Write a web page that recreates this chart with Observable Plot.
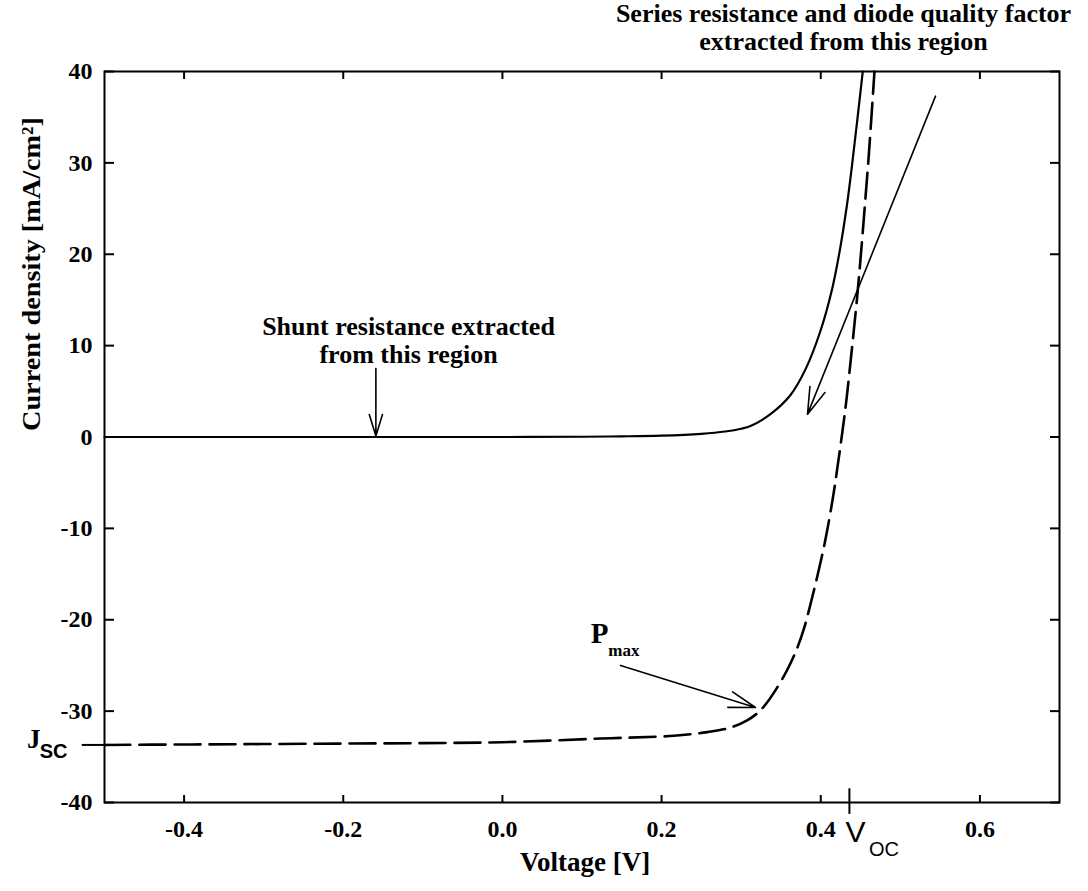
<!DOCTYPE html>
<html><head><meta charset="utf-8">
<script src="https://cdn.jsdelivr.net/npm/d3@7"></script>
<script src="https://cdn.jsdelivr.net/npm/@observablehq/plot@0.6"></script>
<style>body{margin:0;background:#fff;} #chart svg{display:block;}</style>
</head><body><div id="chart"></div>
<script>
// Dark J-V curve (solid)
const darkVoltage = [-0.5,-0.4,-0.3,-0.2,-0.1,0,0.1,0.15,0.2,0.25,0.28,0.3,0.3117,0.3368,0.362,0.3808,0.3996,0.4143,0.4239,0.4331,0.4394,0.4458,0.4528];
const darkCurrent = [0,0,0,0,0,0,0.03,0.07,0.15,0.35,0.6,0.9,1.2,2.5,4.6,7.4,11.6,16.2,20.4,25.5,29.8,34.6,40];
// Illuminated J-V curve (dashed)
const lightVoltage = [-0.5,-0.4,-0.3,-0.2,-0.1,0,0.1233,0.2154,0.2573,0.2866,0.3075,0.3201,0.3285,0.341,0.3578,0.3704,0.3788,0.3871,0.395,0.405,0.415,0.4215,0.4311,0.4374,0.4458,0.452,0.4562,0.4604,0.4675];
const lightCurrent = [-33.7,-33.65,-33.6,-33.55,-33.5,-33.4,-33.0,-32.7,-32.3,-31.8,-31.0,-30.25,-29.5,-28.0,-25.5,-23.1,-21.0,-18.3,-15.5,-11.6,-6.8,-3.0,3.2,8.2,15.4,21.6,26.2,30.9,40];
const xTicks = [-0.4,-0.2,0,0.2,0.4,0.6];
const yTicks = [-40,-30,-20,-10,0,10,20,30,40];
const vOC = 0.436;
const jSC = -33.7;
// annotation arrows (start -> end, data units)
const arrows = [
  {x1: -0.159, y1: 7.5, x2: -0.159, y2: 0.1},
  {x1: 0.5442, y1: 37.3, x2: 0.3834, y2: 2.5},
  {x1: 0.1484, y1: -25.0, x2: 0.318, y2: -29.6}
];
const notes = [
  {text: "Series resistance and diode quality factor\nextracted from this region", x: 0.4286, y: 44.85},
  {text: "Shunt resistance extracted\nfrom this region", x: -0.118, y: 10.66}
];

const dark = darkVoltage.map((v, i) => ({v, j: darkCurrent[i]}));
const light = lightVoltage.map((v, i) => ({v, j: lightCurrent[i]}));
const serif = "'Liberation Serif', 'Times New Roman', serif";
const sans = "'Liberation Sans', Arial, sans-serif";

const chart = Plot.plot({
  width: 1088,
  height: 891,
  marginLeft: 104,
  marginRight: 29,
  marginTop: 71,
  marginBottom: 89,
  style: {fontFamily: serif, background: "#fff", color: "#000", overflow: "visible"},
  x: {domain: [-0.5, 0.7]},
  y: {domain: [-40, 40]},
  marks: [
    Plot.frame({stroke: "#000", strokeWidth: 2}),
    Plot.axisX(xTicks, {anchor: "bottom", tickSize: -7, tickPadding: 24, strokeWidth: 2, tickFormat: d => d.toFixed(1), fontSize: 24, fontWeight: "bold", label: null}),
    Plot.axisX(xTicks, {anchor: "top", tickSize: -7, strokeWidth: 2, tickFormat: () => "", label: null}),
    Plot.axisY(yTicks, {anchor: "left", tickSize: -10, tickPadding: 22, strokeWidth: 2, tickFormat: d => String(d), fontSize: 24, fontWeight: "bold", label: null}),
    Plot.axisY(yTicks, {anchor: "right", tickSize: -10, strokeWidth: 2, tickFormat: () => "", label: null}),
    Plot.line(dark, {x: "v", y: "j", stroke: "#000", strokeWidth: 2.2, curve: "catmull-rom"}),
    Plot.line(light, {x: "v", y: "j", stroke: "#000", strokeWidth: 2.6, strokeDasharray: "26,9", curve: "catmull-rom"}),
    Plot.ruleX([vOC], {y1: -38.5, y2: -41.3, stroke: "#000", strokeWidth: 2}),
    Plot.ruleY([jSC], {x1: -0.528, x2: -0.492, stroke: "#000", strokeWidth: 2}),
    Plot.arrow(arrows, {x1: "x1", y1: "y1", x2: "x2", y2: "y2", stroke: "#000", strokeWidth: 1.6, headLength: 26, headAngle: 34}),
    Plot.text(notes, {x: "x", y: "y", text: "text", fontSize: 26, fontWeight: "bold", lineHeight: 1.08, textAnchor: "middle", fill: "#000"}),
    // P_max
    Plot.text(["P"], {x: 0.122, y: -21.5, fontSize: 29, fontWeight: "bold", fill: "#000"}),
    Plot.text(["max"], {x: 0.133, y: -23.4, fontSize: 17, fontWeight: "bold", textAnchor: "start", fill: "#000"}),
    // V_OC
    Plot.text(["V"], {x: 0.431, y: -43.3, fontSize: 30, fontFamily: sans, textAnchor: "start", fill: "#000"}),
    Plot.text(["OC"], {x: 0.4605, y: -45.1, fontSize: 20, fontFamily: sans, textAnchor: "start", fill: "#000"}),
    // J_SC
    Plot.text(["J"], {x: -0.5975, y: -33.1, fontSize: 27, fontWeight: "bold", textAnchor: "start", fill: "#000"}),
    Plot.text(["SC"], {x: -0.5815, y: -34.4, fontSize: 20, fontFamily: sans, fontWeight: "bold", textAnchor: "start", fill: "#000"}),
    // axis titles
    Plot.text(["Voltage [V]"], {frameAnchor: "bottom", dy: 68, dx: 3, fontSize: 27, fontWeight: "bold", fill: "#000"}),
    Plot.text(["Current density [mA/cm²]"], {frameAnchor: "left", dx: -73, dy: -6, rotate: -90, fontSize: 26, fontWeight: "bold", fill: "#000"})
  ]
});
document.getElementById("chart").appendChild(chart);
// condense the y-axis title like the original
chart.querySelectorAll("text").forEach(t => {
  if (t.textContent === "Current density [mA/cm²]") {
    t.setAttribute("textLength", "314");
    t.setAttribute("lengthAdjust", "spacingAndGlyphs");
  }
});
</script>
</body></html>
